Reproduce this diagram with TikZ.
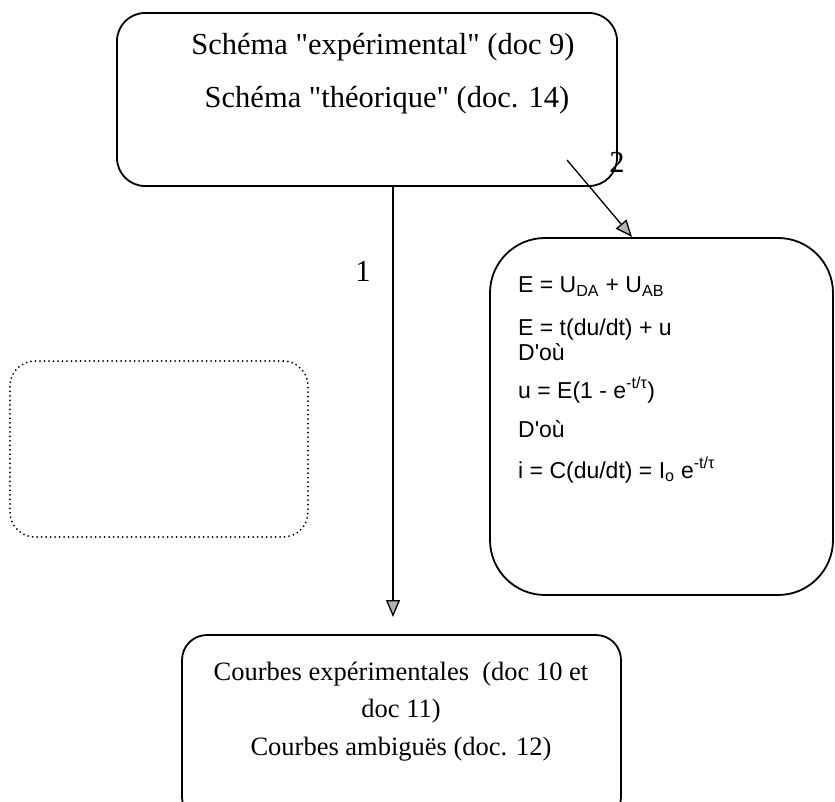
\documentclass[tikz,border=0pt]{standalone}
\usepackage{fontspec}
\setmainfont{Liberation Serif}[Ligatures=TeXOff]
\newfontfamily\arialfont{Liberation Sans}
\usetikzlibrary{arrows.meta,positioning}

\begin{document}
\begin{tikzpicture}[x=1pt,y=-1pt,
  every node/.style={inner sep=0pt},
  box/.style={draw,line width=1.8pt,rounded corners=#1},
  box/.default=25pt,
  dotbox/.style={draw,line width=2pt,line cap=round,dash pattern=on 0pt off 4.5pt,rounded corners=25pt},
  serif/.style={font=\fontsize{30.5}{36}\selectfont},
  serifb/.style={font=\fontsize{26.5}{31}\selectfont},
  sans/.style={font=\arialfont\fontsize{23}{28}\selectfont},
  arr/.style={line width=1.3pt,-{Triangle[length=17pt,width=14pt,fill=gray!60]}}]
  \useasboundingbox (0,0) rectangle (835,802);
  % boxes
  \node[box=28pt,minimum width=500pt,minimum height=173pt] (schema) at (367,99.5) {};
  \node[box=55pt,minimum width=343pt,minimum height=357pt] (eqs) at (661.5,416.5) {};
  \node[dotbox,minimum width=298pt,minimum height=176pt] (vide) at (159,449) {};
  \node[box,minimum width=439pt,minimum height=187pt] (courbes) at (401.5,728.5) {};
  % top box
  \node[serif,anchor=base] (schema1) at (383,55) {Schéma "expérimental" (doc 9)};
  \node[serif,anchor=base] (schema2) at (387,108) {Schéma "théorique" (doc. 14)};
  % right box
  \node[sans,anchor=base west] (eq1) at (518,293) {E = U\textsubscript{DA} + U\textsubscript{AB}};
  \node[sans,anchor=base west] (eq2) at (518,335) {E = t(du/dt) + u};
  \node[sans,anchor=base west] (eq3) at (518,360) {D'où};
  \node[sans,anchor=base west] (eq4) at (518,398) {u = E(1 - e\textsuperscript{-t/τ})};
  \node[sans,anchor=base west] (eq5) at (518,437) {D'où};
  \node[sans,anchor=base west] (eq6) at (518,478) {i = C(du/dt) = I\textsubscript{o} e\textsuperscript{-t/τ}};
  % bottom box
  \node[serifb,anchor=base] (courbes1) at (401,680) {Courbes expérimentales\ \ (doc 10 et};
  \node[serifb,anchor=base] (courbes2) at (401,717) {doc 11)};
  \node[serifb,anchor=base] (courbes3) at (401,755) {Courbes ambiguës (doc. 12)};
  % arrows
  \coordinate (tip1) at (393,617);
  \coordinate (tail2) at (567,160);
  \coordinate (tip2) at (632,237);
  \draw[arr] (tip1 |- schema.south) -- (tip1);
  \draw[arr] (tail2) -- (tip2);
  \node[serif,anchor=base] (lab1) at (363,282) {1};
  \node[serif,anchor=base] (lab2) at (617,173) {2};
\end{tikzpicture}
\end{document}
